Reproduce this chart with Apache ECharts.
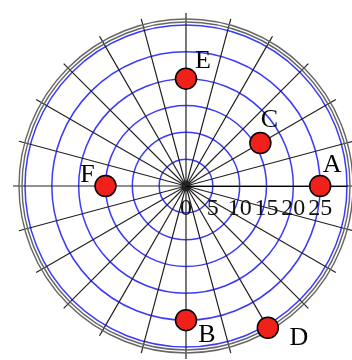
<!DOCTYPE html>
<html>
<head>
<meta charset="utf-8">
<script src="https://cdn.jsdelivr.net/npm/echarts@6/dist/echarts.min.js"></script>
<style>html,body{margin:0;padding:0;background:#fff}#c{width:352px;height:360px}</style>
</head>
<body>
<div id="c"></div>
<script>
// data
const pointNames = ['A', 'B', 'C', 'D', 'E', 'F'];
const pointRadius = [25, 25, 16, 30.5, 20, 15];
const pointAngle = [0, 270, 30, 300, 90, 180];
const radiusTickLabels = ['0', '5', '10', '15', '20', '25'];

// label placement (style, not data)
const labelOffsets = {A: [12, -21], B: [21, 15], C: [9, -23], D: [31, 10], E: [17, -17], F: [-18, -11]};

const chart = echarts.init(document.getElementById('c'), null, {renderer: 'canvas'});
const CX = 186, CY = 186;
const serif = 'Liberation Serif';

const scatterData = pointNames.map((n, i) => ({
  name: n,
  value: [pointRadius[i], pointAngle[i]],
  label: {offset: labelOffsets[n]}
}));

chart.setOption({
  animation: false,
  backgroundColor: '#fff',
  polar: [
    {center: [CX, CY], radius: 161},
    {center: [CX, CY], radius: 164},
    {center: [CX, CY], radius: 167}
  ],
  angleAxis: [
    {polarIndex: 0, type: 'value', min: 0, max: 360, startAngle: 0, clockwise: false,
     axisLine: {show: false}, axisTick: {show: false}, axisLabel: {show: false}, splitLine: {show: false}},
    {polarIndex: 1, type: 'value', min: 0, max: 360, interval: 15, startAngle: 0, clockwise: false,
     axisLine: {show: true, lineStyle: {color: '#666', width: 1.4}},
     axisTick: {show: false},
     axisLabel: {show: false},
     splitLine: {show: false}},
    {polarIndex: 2, type: 'value', min: 0, max: 360, interval: 15, startAngle: 0, clockwise: false,
     axisLine: {show: true, lineStyle: {color: '#666', width: 1.4}},
     axisTick: {show: true, length: 6, inside: false, lineStyle: {color: '#222', width: 1.2}},
     axisLabel: {show: false},
     splitLine: {show: true, lineStyle: {color: '#222', width: 1.2}}}
  ],
  radiusAxis: [
    {polarIndex: 0, type: 'value', min: 0, max: 30, interval: 5,
     axisLine: {show: true, lineStyle: {color: '#000', width: 1.2}},
     axisTick: {show: false},
     axisLabel: {show: true, margin: -6, verticalAlign: 'top', align: 'center', padding: [5, 0, 0, 0],
       color: '#111', fontFamily: serif, fontSize: 24,
       formatter: v => radiusTickLabels.indexOf(String(v)) >= 0 ? String(v) : ''},
     splitLine: {show: true, lineStyle: {color: '#3a3aff', width: 1.5}}},
    {polarIndex: 1, type: 'value', min: 0, max: 30, show: false},
    {polarIndex: 2, type: 'value', min: 0, max: 30, show: false}
  ],
  series: [{
    type: 'scatter',
    coordinateSystem: 'polar',
    polarIndex: 0,
    clip: false,
    symbol: 'circle',
    symbolSize: 21,
    itemStyle: {color: '#f0201a', borderColor: '#000', borderWidth: 1.5, opacity: 1},
    label: {show: true, position: 'inside', formatter: '{b}', color: '#000', fontFamily: serif, fontSize: 26},
    data: scatterData,
    z: 10
  }]
});
</script>
</body>
</html>
